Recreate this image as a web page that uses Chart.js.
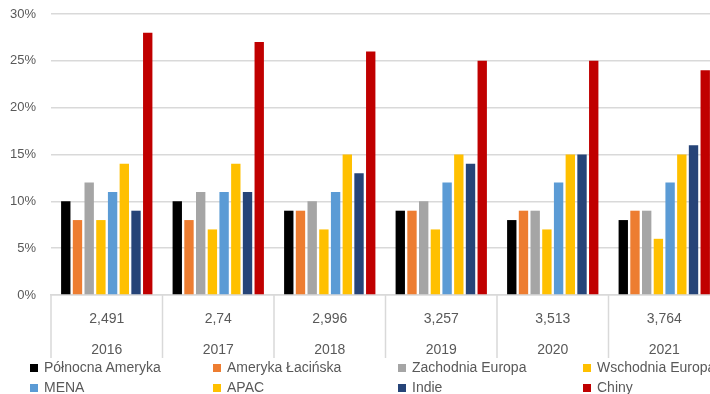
<!DOCTYPE html>
<html>
<head>
<meta charset="utf-8">
<script src="https://cdn.jsdelivr.net/npm/chart.js@4/dist/chart.umd.min.js"></script>
<style>
  html, body { margin: 0; padding: 0; background: #fff; overflow: hidden; }
  #wrap { position: relative; width: 720px; height: 394px; }
  #legend { position: absolute; left: 0; top: 0; width: 720px; height: 394px; pointer-events: none;
            font-family: "Liberation Sans", Arial, sans-serif; font-size: 14px; color: #595959; }
  .item { position: absolute; white-space: nowrap; line-height: 16px; }
  .box { display: inline-block; width: 8px; height: 8px; margin-right: 6px; vertical-align: 0px; }
</style>
</head>
<body>
<div id="wrap">
  <canvas id="myChart" width="720" height="394"></canvas>
  <div id="legend"></div>
</div>
<script>
// Dane wykresu
const lata = ["2016", "2017", "2018", "2019", "2020", "2021"];
const wartosci = ["2,491", "2,74", "2,996", "3,257", "3,513", "3,764"];

const regiony = ["Północna Ameryka", "Ameryka Łacińska", "Zachodnia Europa", "Wschodnia Europa",
                 "MENA", "APAC", "Indie", "Chiny"];
const kolory = ["#000000", "#ED7D31", "#A5A5A5", "#FFC000", "#5B9BD5", "#FFC000", "#264478", "#C00000"];

const polnocnaAmeryka = [10, 10, 9, 9, 8, 8];
const amerykaLacinska = [8, 8, 9, 9, 9, 9];
const zachodniaEuropa = [12, 11, 10, 10, 9, 9];
const wschodniaEuropa = [8, 7, 7, 7, 7, 6];
const mena = [11, 11, 11, 12, 12, 12];
const apac = [14, 14, 15, 15, 15, 15];
const indie = [9, 11, 13, 14, 15, 16];
const chiny = [28, 27, 26, 25, 25, 24];

const serie = [polnocnaAmeryka, amerykaLacinska, zachodniaEuropa, wschodniaEuropa, mena, apac, indie, chiny];

const szary = "#d9d9d9";
const tekst = "#595959";
const font = "'Liberation Sans', Arial, sans-serif";

var data = {
  labels: lata.map((r, i) => [wartosci[i], r]),
  datasets: serie.map((s, i) => ({
    label: regiony[i],
    data: s,
    backgroundColor: kolory[i],
    categoryPercentage: 0.84,
    barPercentage: 0.8
  }))
};

// pionowe linie tabeli pod osią X
const separatory = {
  id: "separatory",
  afterDraw(chart) {
    const x = chart.scales.x;
    const c = chart.ctx;
    const w = x.width / x.ticks.length;
    c.save();
    c.strokeStyle = szary;
    c.lineWidth = 1.5;
    for (let i = 0; i <= x.ticks.length; i++) {
      const px = x.getPixelForValue(i) - w / 2;
      c.beginPath();
      c.moveTo(px, x.top);
      c.lineTo(px, x.bottom - 6);
      c.stroke();
    }
    c.restore();
  }
};

var options = {
  responsive: false,
  animation: false,
  layout: { padding: { left: 9, top: 0, right: 0, bottom: 30 } },
  plugins: {
    legend: { display: false },
    tooltip: { enabled: false }
  },
  scales: {
    x: {
      grid: { display: false },
      border: { display: true, color: szary, width: 1.5 },
      ticks: { color: tekst, padding: 0, autoSkip: false, maxRotation: 0,
               font: { family: font, size: 14, lineHeight: 2.25 } },
      afterFit(s) { s.height = 69; s.paddingLeft = 0; s.paddingRight = 0; }
    },
    y: {
      min: 0,
      max: 30,
      grid: { color: szary, lineWidth: 1.5, drawTicks: false },
      border: { display: false },
      ticks: { stepSize: 5, padding: 15, color: tekst, font: { family: font, size: 13 },
               callback: v => v + "%" },
      afterFit(s) { s.width = 42; s.paddingTop = 14; s.paddingBottom = 0; }
    }
  }
};

var ctx = document.getElementById("myChart").getContext("2d");
var myChart = new Chart(ctx, { type: "bar", data: data, options: options, plugins: [separatory] });

// Legenda w 4 kolumnach
const legenda = document.getElementById("legend");
const kolX = [30, 213, 398, 583];
const rzY = [359, 379];
myChart.data.datasets.forEach(function(ds, i) {
  const el = document.createElement("div");
  el.className = "item";
  el.style.left = kolX[i % 4] + "px";
  el.style.top = rzY[Math.floor(i / 4)] + "px";
  el.innerHTML = '<span class="box" style="background:' + ds.backgroundColor + '"></span>' + ds.label;
  legenda.appendChild(el);
});
</script>
</body>
</html>
